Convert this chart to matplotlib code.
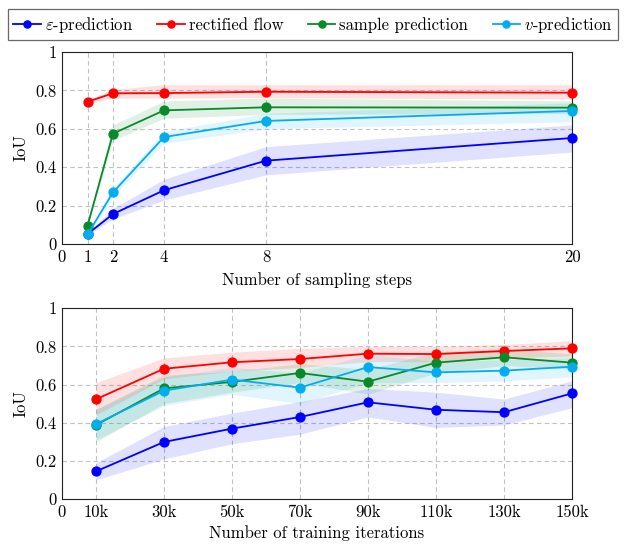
import matplotlib
matplotlib.use("Agg")
import matplotlib.pyplot as plt
import numpy as np

plt.rcParams['font.family'] = 'serif'
plt.rcParams['font.serif'] = ['cmr10', 'DejaVu Serif']
plt.rcParams['mathtext.fontset'] = 'cm'
plt.rcParams['axes.formatter.use_mathtext'] = True

series_names = [r'$\varepsilon$-prediction', 'rectified flow', 'sample prediction', r'$v$-prediction']
colors = ['#0000ff', '#ff0000', '#088a2a', '#00aef0']

# Top: sampling steps
steps = [1, 2, 4, 8, 20]
steps_ticks = [0, 1, 2, 4, 8, 20]
top_mean = [
    [0.052, 0.156, 0.280, 0.434, 0.552],
    [0.741, 0.785, 0.786, 0.793, 0.788],
    [0.095, 0.575, 0.696, 0.712, 0.710],
    [0.050, 0.269, 0.557, 0.641, 0.693],
]
top_low = [
    [0.045, 0.130, 0.229, 0.360, 0.479],
    [0.730, 0.760, 0.760, 0.762, 0.755],
    [0.085, 0.540, 0.655, 0.675, 0.680],
    [0.042, 0.250, 0.525, 0.600, 0.637],
]
top_high = [
    [0.060, 0.185, 0.337, 0.507, 0.620],
    [0.752, 0.805, 0.830, 0.830, 0.830],
    [0.105, 0.620, 0.745, 0.760, 0.745],
    [0.058, 0.290, 0.585, 0.680, 0.735],
]

# Bottom: training iterations (k)
iters = [10, 30, 50, 70, 90, 110, 130, 150]
iters_ticks = [0, 10, 30, 50, 70, 90, 110, 130, 150]
iters_labels = ['0', '10k', '30k', '50k', '70k', '90k', '110k', '130k', '150k']
bot_mean = [
    [0.145, 0.299, 0.369, 0.430, 0.507, 0.468, 0.455, 0.554],
    [0.523, 0.683, 0.717, 0.734, 0.762, 0.760, 0.776, 0.790],
    [0.388, 0.580, 0.614, 0.661, 0.615, 0.715, 0.743, 0.715],
    [0.393, 0.568, 0.626, 0.584, 0.692, 0.664, 0.673, 0.694],
]
bot_low = [
    [0.100, 0.210, 0.290, 0.340, 0.430, 0.375, 0.388, 0.479],
    [0.440, 0.630, 0.670, 0.690, 0.720, 0.720, 0.740, 0.750],
    [0.300, 0.500, 0.560, 0.610, 0.550, 0.660, 0.700, 0.680],
    [0.310, 0.490, 0.550, 0.500, 0.610, 0.610, 0.620, 0.640],
]
bot_high = [
    [0.190, 0.380, 0.450, 0.510, 0.580, 0.560, 0.524, 0.620],
    [0.610, 0.740, 0.770, 0.790, 0.800, 0.800, 0.810, 0.830],
    [0.470, 0.650, 0.670, 0.710, 0.680, 0.770, 0.790, 0.760],
    [0.470, 0.640, 0.690, 0.660, 0.760, 0.720, 0.730, 0.740],
]

fig = plt.figure(figsize=(6.26, 5.46), dpi=100)
ax1 = fig.add_axes([62/626, (546-244)/546, 510/626, 192/546])
ax2 = fig.add_axes([62/626, (546-499)/546, 510/626, 190.7/546])

def draw(ax, x, means, lows, highs):
    handles = []
    for i in range(4):
        ax.fill_between(x, lows[i], highs[i], color=colors[i], alpha=0.12, linewidth=0, zorder=1)
    for i in range(4):
        h, = ax.plot(x, means[i], color=colors[i], lw=1.3, marker='o', markersize=6.4,
                     clip_on=False, zorder=3, label=series_names[i])
        handles.append(h)
    return handles

handles = draw(ax1, steps, top_mean, top_low, top_high)
draw(ax2, iters, bot_mean, bot_low, bot_high)

yt = [0, 0.2, 0.4, 0.6, 0.8, 1]
ylab = ['0', '0.2', '0.4', '0.6', '0.8', '1']
FS = 12
for ax in (ax1, ax2):
    ax.set_ylim(0, 1)
    ax.set_yticks(yt)
    ax.set_yticklabels(ylab)
    ax.grid(True, color='#c0c0c0', linestyle=(0, (4, 3)), linewidth=0.8)
    ax.set_axisbelow(True)
    ax.tick_params(length=0, labelsize=FS, pad=4)
    ax.set_ylabel('IoU', fontsize=FS, labelpad=5)
    for s in ax.spines.values():
        s.set_linewidth(0.8)
        s.set_color('#222222')

ax1.set_xlim(0, 20)
ax1.set_xticks(steps_ticks)
ax1.set_xticklabels([str(v) for v in steps_ticks])
ax1.set_xlabel('Number of sampling steps', fontsize=FS, labelpad=5)

ax2.set_xlim(0, 150)
ax2.set_xticks(iters_ticks)
ax2.set_xticklabels(iters_labels)
ax2.set_xlabel('Number of training iterations', fontsize=FS, labelpad=4)

leg = fig.legend(handles=handles, loc='upper center', bbox_to_anchor=(0.5, 0.993), ncol=4,
                 fontsize=12, frameon=True, fancybox=False, edgecolor='#444444',
                 handlelength=1.65, handletextpad=0.25, columnspacing=1.45, borderpad=0.35,
                 borderaxespad=0.3, markerscale=0.8)
leg.get_frame().set_linewidth(0.9)

fig.savefig('out.png', dpi=100)
